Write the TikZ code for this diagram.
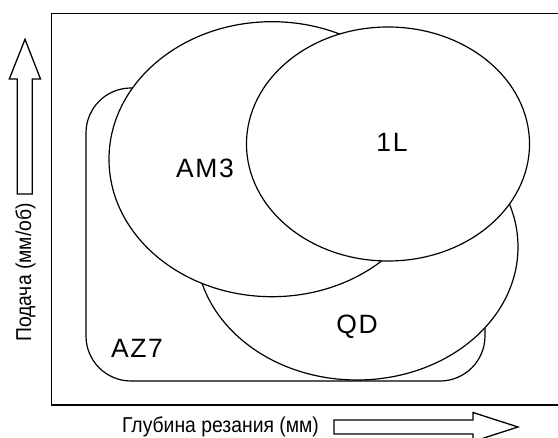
\documentclass[tikz,border=0pt]{standalone}
\usepackage{fontspec}
\usepackage{graphicx}
\setmainfont{Liberation Sans}
\newfontfamily\lblfont[LetterSpace=6]{Liberation Sans}
\usetikzlibrary{shapes.geometric}
\begin{document}
\begin{tikzpicture}[x=1pt,y=-1pt,
  region/.style={draw=black,line width=1.2pt,fill=white,inner sep=0pt},
  oval/.style={region,ellipse},
  lbl/.style={font=\lblfont\fontsize{26.5}{30}\selectfont,inner sep=0pt,anchor=base},
  axislbl/.style={font=\fontsize{21.5}{25}\selectfont,inner sep=0pt,anchor=base},
  blockarrow/.style={draw=black,line width=1.3pt,fill=white,line join=miter}]
\useasboundingbox (0,0) rectangle (558,438);
% frame (right side lies beyond the picture)
\draw[line width=1.4pt] (558,13.5) -- (51.7,13.5) -- (51.7,405) -- (558,405);
% regions
\node[region,rectangle,rounded corners=45pt,minimum width=399pt,minimum height=293pt] (az7) at (285.5,234.5) {};
\node[oval,minimum width=322pt,minimum height=266pt] (qd) at (357,247) {};
\node[oval,minimum width=326pt,minimum height=275pt] (am3) at (272,159.2) {};
\node[oval,minimum width=283pt,minimum height=234pt] (onel) at (388,144) {};
% labels
\node[lbl] (tam3) at (205,178) {AM3};
\node[lbl] (tonel) at (392,152) {1L};
\node[lbl] (tqd) at (357,334) {QD};
\node[lbl] (taz7) at (137,358) {AZ7};
% axis arrows
\draw[blockarrow] (17.3,194) -- (17.3,79) -- (9.3,79) -- (25,39.3) -- (40.5,79) -- (32.3,79) -- (32.3,194) -- cycle;
\draw[blockarrow] (334,420) -- (473,420) -- (473,412.5) -- (518,427) -- (473,441.5) -- (473,434) -- (334,434) -- cycle;
% axis labels
\node[axislbl] (ylab) at (31,272.5) [rotate=90] {\scalebox{0.9}[1]{Подача (мм/об)}};
\node[axislbl] (xlab) at (220.5,433) {\scalebox{0.9}[1]{Глубина резания (мм)}};
\end{tikzpicture}
\end{document}
